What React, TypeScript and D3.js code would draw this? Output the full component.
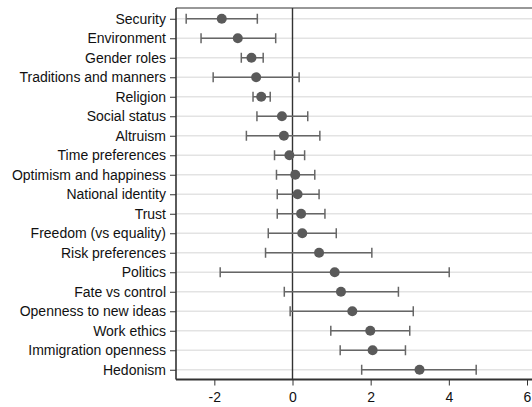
import React, { useEffect, useRef } from "react";
import * as d3 from "d3";

const categories = [
  "Security",
  "Environment",
  "Gender roles",
  "Traditions and manners",
  "Religion",
  "Social status",
  "Altruism",
  "Time preferences",
  "Optimism and happiness",
  "National identity",
  "Trust",
  "Freedom (vs equality)",
  "Risk preferences",
  "Politics",
  "Fate vs control",
  "Openness to new ideas",
  "Work ethics",
  "Immigration openness",
  "Hedonism",
];
const estimates = [
  -1.81, -1.4, -1.05, -0.93, -0.8, -0.27, -0.22, -0.08, 0.07, 0.13, 0.22, 0.25,
  0.68, 1.08, 1.24, 1.53, 1.99, 2.05, 3.25,
];
const lower = [
  -2.72, -2.34, -1.31, -2.03, -1.01, -0.91, -1.18, -0.46, -0.41, -0.39, -0.39,
  -0.62, -0.69, -1.85, -0.21, -0.06, 0.98, 1.22, 1.77,
];
const upper = [
  -0.9, -0.43, -0.75, 0.17, -0.57, 0.39, 0.7, 0.31, 0.57, 0.68, 0.83, 1.12,
  2.03, 4.01, 2.71, 3.09, 3.0, 2.89, 4.7,
];
const xTicks = [-2, 0, 2, 4, 6];

export default function App() {
  const ref = useRef<SVGSVGElement>(null);

  useEffect(() => {
    const width = 532;
    const left = 176,
      top = 8,
      bottom = 379.5;
    const svg = d3.select(ref.current);
    svg.selectAll("*").remove();

    const x = d3.scaleLinear().domain([0, 6]).range([292.5, 527]);
    const y = d3
      .scalePoint<string>()
      .domain(categories)
      .range([top + 1, bottom])
      .padding(0.5);

    const rows = categories.map((c, i) => ({
      c,
      est: estimates[i],
      lo: lower[i],
      hi: upper[i],
    }));

    // grid lines
    svg
      .append("g")
      .selectAll("line")
      .data(categories)
      .join("line")
      .attr("x1", left)
      .attr("x2", width)
      .attr("y1", (d) => y(d)!)
      .attr("y2", (d) => y(d)!)
      .attr("stroke", "#e3e3e3")
      .attr("stroke-width", 1.6);

    // frame top
    svg
      .append("line")
      .attr("x1", left)
      .attr("x2", width)
      .attr("y1", top)
      .attr("y2", top)
      .attr("stroke", "#333")
      .attr("stroke-width", 1.2);

    // zero line
    svg
      .append("line")
      .attr("x1", x(0))
      .attr("x2", x(0))
      .attr("y1", top)
      .attr("y2", bottom)
      .attr("stroke", "#333")
      .attr("stroke-width", 1.4);

    // y axis
    const ya = svg
      .append("g")
      .attr("transform", `translate(${left},0)`)
      .call(d3.axisLeft(y).tickSize(6).tickPadding(4).tickSizeOuter(0));
    ya.select(".domain").remove();
    ya.append("line")
      .attr("x1", 0)
      .attr("x2", 0)
      .attr("y1", top)
      .attr("y2", bottom)
      .attr("stroke", "#333")
      .attr("stroke-width", 1.6);
    ya.selectAll(".tick line").attr("stroke", "#333");
    ya.selectAll("text")
      .attr("font-size", 14)
      .attr("font-family", "Liberation Sans, Arial, sans-serif")
      .attr("fill", "#111");

    // x axis
    const xa = svg
      .append("g")
      .attr("transform", `translate(0,${bottom})`)
      .call(
        d3
          .axisBottom(x)
          .tickValues(xTicks)
          .tickFormat(d3.format("d"))
          .tickSize(6)
          .tickPadding(7)
          .tickSizeOuter(0)
      );
    xa.select(".domain").remove();
    xa.append("line")
      .attr("x1", left)
      .attr("x2", width)
      .attr("y1", 0)
      .attr("y2", 0)
      .attr("stroke", "#333")
      .attr("stroke-width", 1.8);
    xa.selectAll(".tick line").attr("stroke", "#333");
    xa.selectAll("text")
      .attr("font-size", 14)
      .attr("font-family", "Liberation Sans, Arial, sans-serif")
      .attr("fill", "#111")
      .text((d: any) => (d < 0 ? "-" + Math.abs(d) : String(d)));

    // error bars
    const g = svg.append("g").attr("stroke", "#666").attr("stroke-width", 1.5);
    g.selectAll("line.bar")
      .data(rows)
      .join("line")
      .attr("class", "bar")
      .attr("x1", (d) => x(d.lo))
      .attr("x2", (d) => x(d.hi))
      .attr("y1", (d) => y(d.c)!)
      .attr("y2", (d) => y(d.c)!);
    g.selectAll("line.capl")
      .data(rows)
      .join("line")
      .attr("class", "capl")
      .attr("x1", (d) => x(d.lo))
      .attr("x2", (d) => x(d.lo))
      .attr("y1", (d) => y(d.c)! - 5)
      .attr("y2", (d) => y(d.c)! + 5);
    g.selectAll("line.caph")
      .data(rows)
      .join("line")
      .attr("class", "caph")
      .attr("x1", (d) => x(d.hi))
      .attr("x2", (d) => x(d.hi))
      .attr("y1", (d) => y(d.c)! - 5)
      .attr("y2", (d) => y(d.c)! + 5);

    svg
      .append("g")
      .selectAll("circle")
      .data(rows)
      .join("circle")
      .attr("cx", (d) => x(d.est))
      .attr("cy", (d) => y(d.c)!)
      .attr("r", 5)
      .attr("fill", "#5a5a5a");
  }, []);

  return (
    <svg
      ref={ref}
      width={532}
      height={407}
      style={{ position: "absolute", left: 0, top: 0, background: "#fff" }}
    />
  );
}
